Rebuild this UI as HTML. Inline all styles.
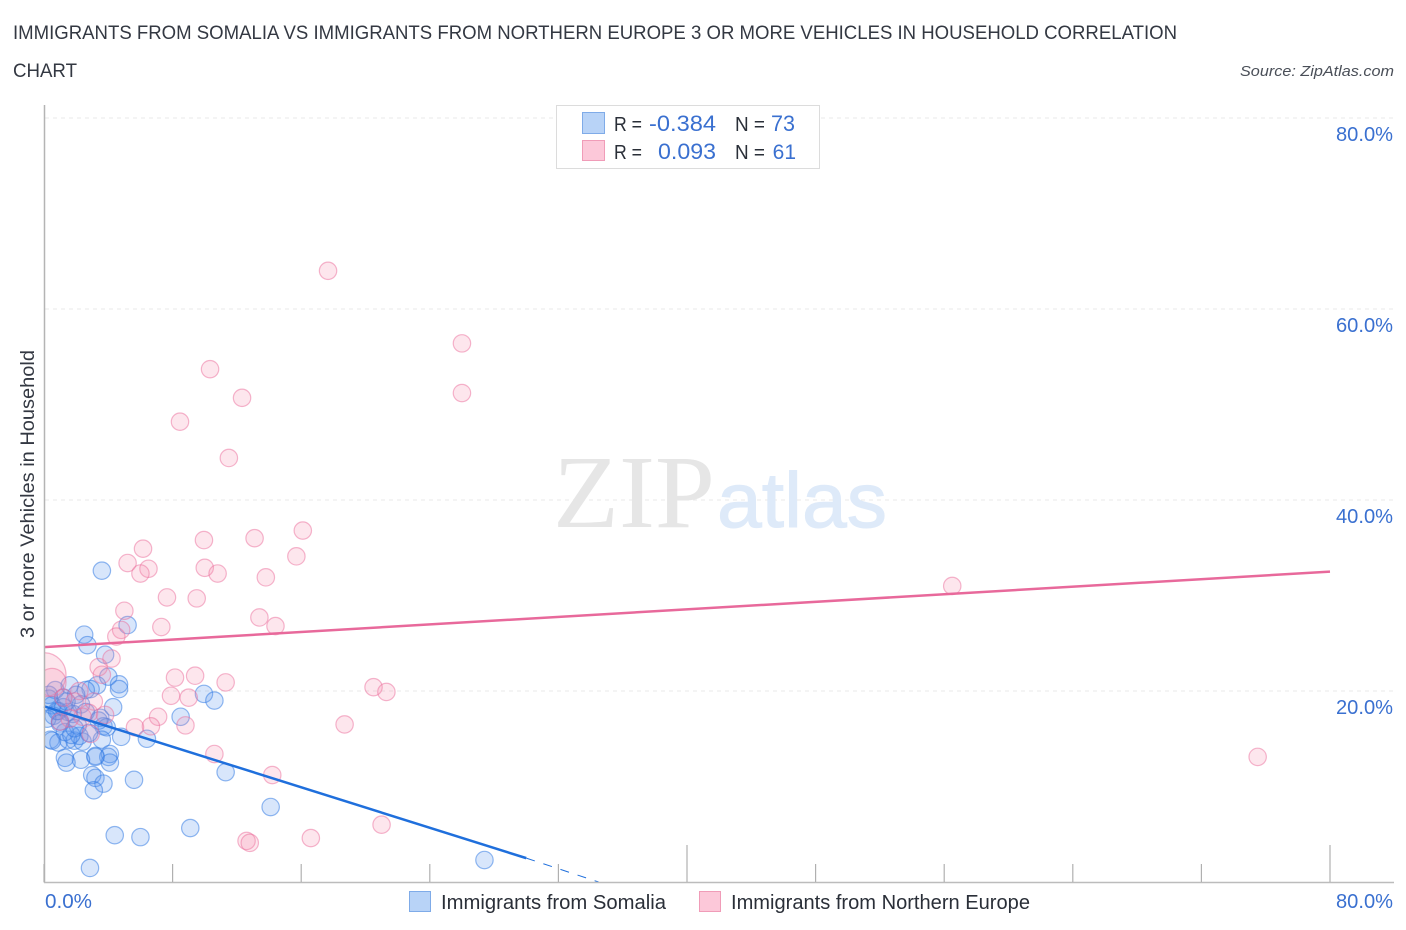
<!DOCTYPE html>
<html lang="en">
<head>
<meta charset="utf-8">
<title>Immigrants from Somalia vs Immigrants from Northern Europe correlation chart</title>
<style>
html,body{margin:0;padding:0;background:#fff;width:1406px;height:930px;overflow:hidden}
svg{display:block;font-family:"Liberation Sans",sans-serif}
</style>
</head>
<body>
<svg id="chart" width="1406" height="930" viewBox="0 0 1406 930" xmlns="http://www.w3.org/2000/svg">
  <defs>
    <clipPath id="plot-clip"><rect x="45" y="100" width="1350" height="782"/></clipPath>
  </defs>
  <text x="13" y="39" font-size="19" fill="#333842" textLength="1164" lengthAdjust="spacingAndGlyphs">IMMIGRANTS FROM SOMALIA VS IMMIGRANTS FROM NORTHERN EUROPE 3 OR MORE VEHICLES IN HOUSEHOLD CORRELATION</text>
  <text x="13" y="77" font-size="19" fill="#333842" textLength="64" lengthAdjust="spacingAndGlyphs">CHART</text>
  <text x="1394" y="76" font-size="15" font-style="italic" fill="#4a4f58" text-anchor="end" textLength="154" lengthAdjust="spacingAndGlyphs">Source: ZipAtlas.com</text>

  <g id="grid"></g>

  <g>
    <text x="553" y="527" font-family="'Liberation Serif',serif" font-size="104" fill="#e6e6e6" textLength="162" lengthAdjust="spacingAndGlyphs">ZIP</text>
    <text x="717" y="527" font-family="'Liberation Sans',sans-serif" font-size="78" fill="#deeaf9" stroke="#deeaf9" stroke-width="1" textLength="170" lengthAdjust="spacingAndGlyphs">atlas</text>
  </g>

  <g clip-path="url(#plot-clip)">
    <g id="points-somalia"></g>
    <g id="points-europe"></g>
  </g>
  <g id="trends"></g>
  <g id="axes"></g>

  <text transform="translate(34,494) rotate(-90)" font-size="19" fill="#333842" text-anchor="middle" textLength="288" lengthAdjust="spacingAndGlyphs">3 or more Vehicles in Household</text>

  <g>
    <rect x="556.5" y="105.5" width="263" height="63" fill="#fff" stroke="#dcdcdc"/>
    <rect x="582.5" y="112.5" width="22" height="21" fill="#b8d3f7" stroke="#7fabe8"/>
    <rect x="582.5" y="140.5" width="22" height="20" fill="#fcc8d9" stroke="#f09cb8"/>
    <text x="614" y="131" font-size="20" fill="#2a2f38" textLength="28" lengthAdjust="spacingAndGlyphs">R =</text>
    <text x="649" y="131" font-size="22" fill="#3a70d0" textLength="67" lengthAdjust="spacingAndGlyphs">-0.384</text>
    <text x="735" y="131" font-size="20" fill="#2a2f38" textLength="30" lengthAdjust="spacingAndGlyphs">N =</text>
    <text x="771" y="131" font-size="22" fill="#3a70d0" textLength="24" lengthAdjust="spacingAndGlyphs">73</text>
    <text x="614" y="159" font-size="20" fill="#2a2f38" textLength="28" lengthAdjust="spacingAndGlyphs">R =</text>
    <text x="658" y="159" font-size="22" fill="#3a70d0" textLength="58" lengthAdjust="spacingAndGlyphs">0.093</text>
    <text x="735" y="159" font-size="20" fill="#2a2f38" textLength="30" lengthAdjust="spacingAndGlyphs">N =</text>
    <text x="796" y="159" font-size="21" fill="#3a70d0" text-anchor="end">61</text>
  </g>

  <g>
    <g>
      <rect x="409.5" y="891.5" width="21" height="20" fill="#b8d3f7" stroke="#7fabe8"/>
      <text x="441" y="909" font-size="20" fill="#2a2f38" textLength="225" lengthAdjust="spacingAndGlyphs">Immigrants from Somalia</text>
    </g>
    <g>
      <rect x="699.5" y="891.5" width="21" height="20" fill="#fcc8d9" stroke="#f09cb8"/>
      <text x="731" y="909" font-size="20" fill="#2a2f38" textLength="299" lengthAdjust="spacingAndGlyphs">Immigrants from Northern Europe</text>
    </g>
  </g>
</svg>
<script>
const xTickValues = [0, 8, 16, 24, 32, 40, 48, 56, 64, 72, 80];
const xTickTall = [0, 0, 0, 0, 0, 1, 0, 0, 0, 0, 1];
const xEndLabels = ["0.0%", "80.0%"];
const xEndValues = [0, 80];
const yTickValues = [20, 40, 60, 80];
const yTickLabels = ["20.0%", "40.0%", "60.0%", "80.0%"];

const somaliaX = [3.6,5.2,2.5,2.7,3.8,4.0,4.67,4.67,3.3,2.9,2.6,0.7,1.6,0.3,0.5,1.2,2.0,2.3,1.5,0.9,
  9.95,10.6,4.3,8.5,3.5,3.7,3.9,6.4,4.8,3.6,0.4,0.9,1.5,1.9,2.4,2.2,1.3,3.2,4.1,4.0,
  4.1,3.2,2.3,1.3,1.4,11.3,5.6,3.0,3.2,3.7,3.1,14.1,9.1,4.4,6.0,2.86,27.4,0.6,1.0,1.8,
  2.1,0.2,0.8,1.2,1.7,2.6,2.8,3.4,0.5,1.0,1.4,1.9,0.3];
const somaliaY = [32.6,26.9,25.9,24.8,23.8,21.5,20.7,20.2,20.6,20.2,20.1,20.1,20.6,19.2,18.5,19.3,19.6,18.6,17.8,17.9,
  19.7,19.0,18.3,17.3,17.2,16.3,16.2,15.0,15.2,14.9,14.9,14.6,14.9,14.8,14.7,15.3,15.7,13.2,13.4,13.1,
  12.5,13.1,12.8,13.0,12.5,11.5,10.7,11.2,10.9,10.3,9.6,7.85,5.65,4.9,4.7,1.47,2.3,17.4,16.8,17.6,
  16.4,17.1,17.9,18.3,15.4,17.8,15.6,16.9,14.8,16.6,18.9,16.1,19.6];

const europeX = [17.67,26.0,26.0,10.33,12.32,8.46,11.5,16.1,6.16,9.95,13.1,15.7,5.2,6.5,6.0,10.0,10.8,13.8,56.5,7.65,
  9.5,5.0,13.4,14.4,7.3,4.8,4.5,4.2,3.4,3.6,9.4,8.15,11.3,20.5,21.3,7.9,9.0,18.7,7.1,8.8,
  6.65,5.66,10.6,14.2,75.5,21.0,16.6,12.6,12.8,0.0,0.5,2.2,1.2,1.9,3.1,2.8,3.8,2.4,1.6,2.9,1.0];
const europeY = [64.0,56.4,51.2,53.7,50.7,48.2,44.4,36.8,34.9,35.8,36.0,34.1,33.4,32.8,32.3,32.9,32.3,31.9,31.0,29.8,
  29.7,28.4,27.7,26.8,26.7,26.4,25.7,23.4,22.5,21.7,21.6,21.4,20.9,20.4,19.9,19.5,19.3,16.5,17.3,16.4,
  16.3,16.2,13.4,11.2,13.1,6.0,4.6,4.3,4.1,21.7,20.9,20.0,19.3,18.9,18.9,17.7,17.5,17.3,17.1,15.5,16.8];
const europeWeight = [1,1,1,1,1,1,1,1,1,1,1,1,1,1,1,1,1,1,1,1,
  1,1,1,1,1,1,1,1,1,1,1,1,1,1,1,1,1,1,1,1,
  1,1,1,1,1,1,1,1,1,6.4,2.6,1,1,1,1,1,1,1,1,1,1];

const trendSomaliaX = [0, 30];
const trendSomaliaY = [18.4, 2.5];
const trendSomaliaDashX = [30, 34.5];
const trendSomaliaDashY = [2.5, 0];
const trendEuropeX = [0, 80];
const trendEuropeY = [24.6, 32.5];

const NS = "http://www.w3.org/2000/svg";
const sx = v => 44 + v * 16.075;
const sy = v => 882 - v * 9.55;
const BASE_R = 8.7;

function make(tag, attrs, parent) {
  const el = document.createElementNS(NS, tag);
  for (const k in attrs) el.setAttribute(k, attrs[k]);
  parent.appendChild(el);
  return el;
}

const grid = document.getElementById("grid");
yTickValues.forEach((v, i) => {
  const l = make("line", {x1: 45, x2: 1394, y1: sy(v), y2: sy(v), stroke: "#e8e8e8", "stroke-width": 1, "stroke-dasharray": "4 4"}, grid);
  
  
  const t = make("text", {x: 1393, y: sy(v) + 23, "font-size": 20, fill: "#3a70d0", "text-anchor": "end", textLength: 57, lengthAdjust: "spacingAndGlyphs"}, grid);
  t.textContent = yTickLabels[i];
  
  
});

const somaliaGroup = document.getElementById("points-somalia");
somaliaX.forEach((v, i) => {
  const c = make("circle", {cx: sx(v), cy: sy(somaliaY[i]), r: BASE_R, fill: "rgba(92,152,238,0.24)", stroke: "rgba(48,120,226,0.52)", "stroke-width": 1.2}, somaliaGroup);
  
  
});

const europeGroup = document.getElementById("points-europe");
europeX.forEach((v, i) => {
  const c = make("circle", {cx: sx(v), cy: sy(europeY[i]), r: BASE_R * Math.sqrt(europeWeight[i]), fill: "rgba(246,140,175,0.22)", stroke: "rgba(236,110,155,0.5)", "stroke-width": 1.2}, europeGroup);
  
  
});

const trends = document.getElementById("trends");
const tPink = make("line", {x1: sx(trendEuropeX[0]), y1: sy(trendEuropeY[0]), x2: sx(trendEuropeX[1]), y2: sy(trendEuropeY[1]), stroke: "#e8699b", "stroke-width": 2.5}, trends);


const tBlue = make("line", {x1: sx(trendSomaliaX[0]), y1: sy(trendSomaliaY[0]), x2: sx(trendSomaliaX[1]), y2: sy(trendSomaliaY[1]), stroke: "#1f6fdc", "stroke-width": 2.5}, trends);


const tDash = make("line", {x1: sx(trendSomaliaDashX[0]), y1: sy(trendSomaliaDashY[0]), x2: sx(trendSomaliaDashX[1]), y2: sy(trendSomaliaDashY[1]), stroke: "#1f6fdc", "stroke-width": 1, "stroke-dasharray": "9 9"}, trends);



const axes = document.getElementById("axes");
const yAxis = make("line", {x1: 44.5, x2: 44.5, y1: 105, y2: 883, stroke: "#b4b4b4", "stroke-width": 1.5}, axes);


const xAxis = make("line", {x1: 44, x2: 1394, y1: 882.5, y2: 882.5, stroke: "#bcbcbc", "stroke-width": 1.5}, axes);


const tickTop = [864, 845];
xTickValues.forEach((v, i) => {
  const tick = make("line", {x1: sx(v), x2: sx(v), y1: tickTop[xTickTall[i]], y2: 882, stroke: "#b0b0b0", "stroke-width": 1.2}, axes);
  
  
});
const xStart = make("text", {x: 45, y: 908, "font-size": 20, fill: "#3a70d0", textLength: 47, lengthAdjust: "spacingAndGlyphs"}, axes);
xStart.textContent = xEndLabels[0];


const xEnd = make("text", {x: 1393, y: 908, "font-size": 20, fill: "#3a70d0", "text-anchor": "end", textLength: 57, lengthAdjust: "spacingAndGlyphs"}, axes);
xEnd.textContent = xEndLabels[1];


</script>
</body>
</html>
